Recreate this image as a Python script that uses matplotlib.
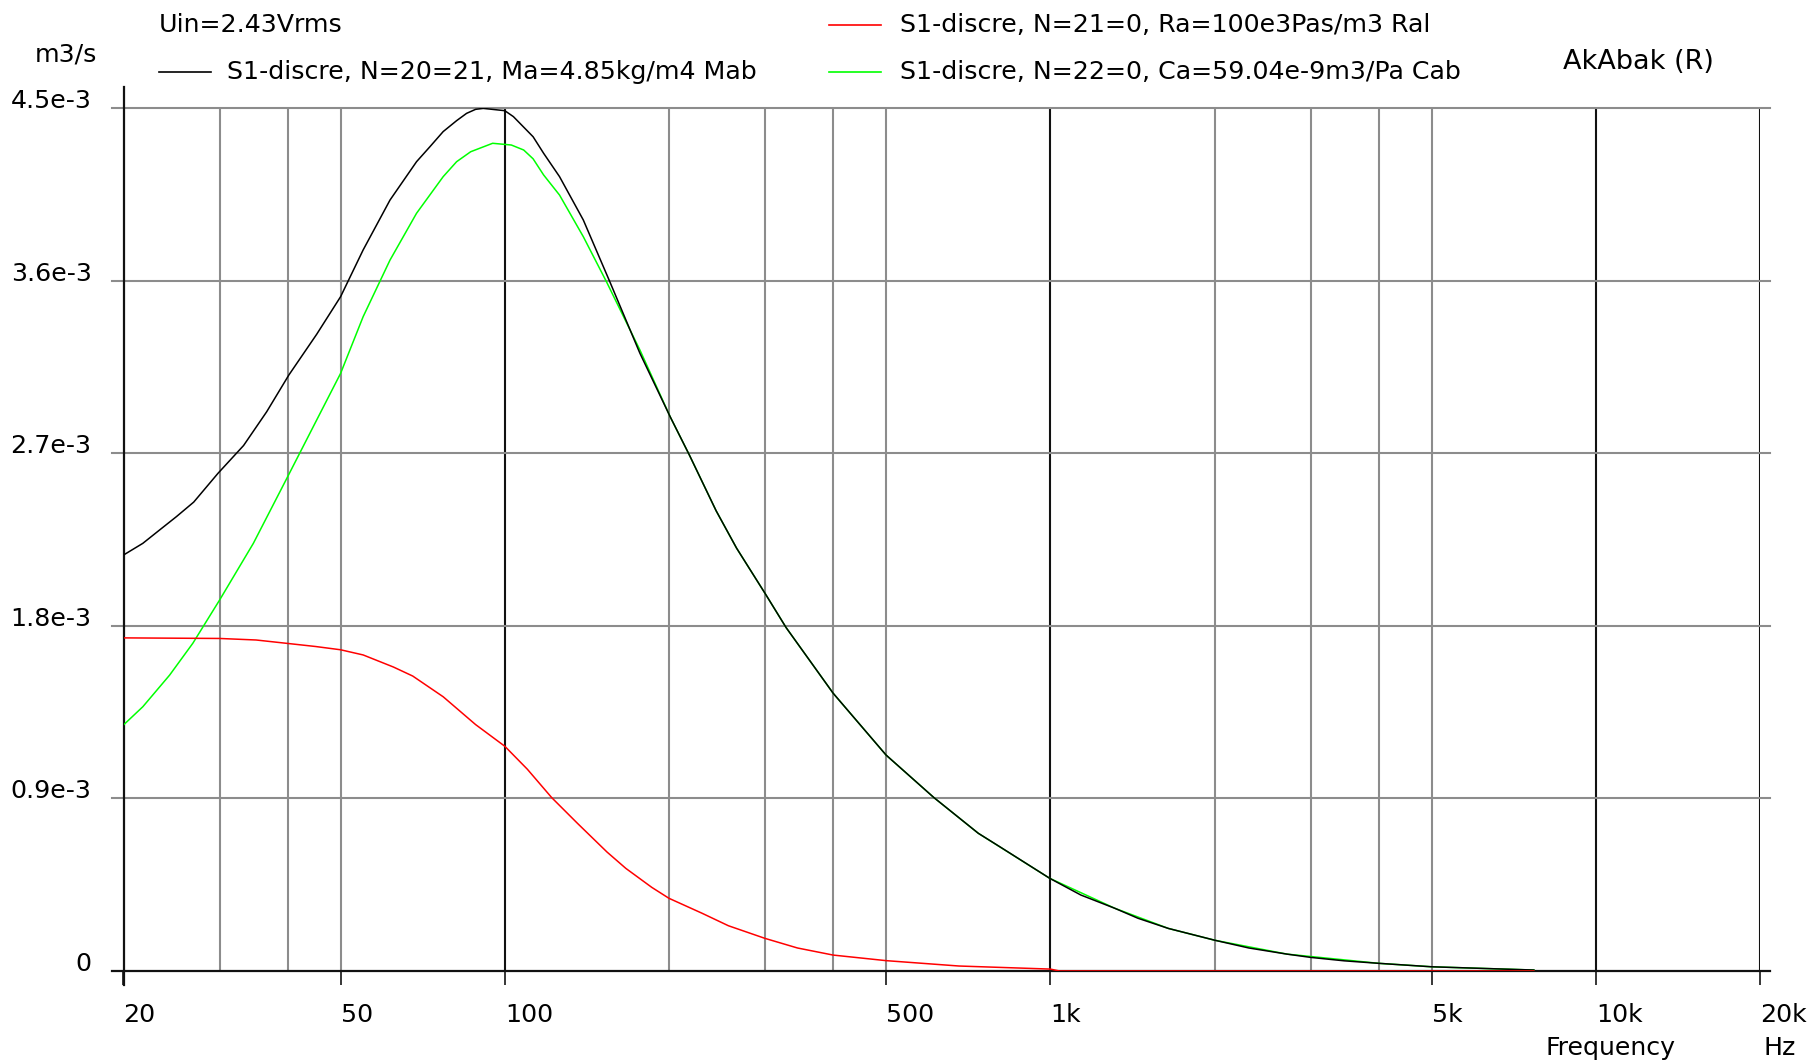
import numpy as np
import matplotlib
matplotlib.use("Agg")
import matplotlib.pyplot as plt
from matplotlib.lines import Line2D

# volume velocity, units of 1e-3 m3/s
black_f = [20, 21.7, 23.3, 25, 26.9, 29.8, 33.2, 36.6, 40.2, 45.2, 50, 55, 61.6, 68.9, 72.9,
           77.1, 81.6, 85.1, 88.4, 91.3, 100, 103.7, 112.7, 117.8, 126, 139.3, 155.8, 176.9,
           201, 218, 244, 266, 300, 328, 400, 500, 612, 738, 808, 998, 1138, 1313, 1448,
           1646, 2005, 2312, 2716, 3000, 3460, 4000, 5000, 7700]
black_q = [2.169, 2.230, 2.300, 2.369, 2.445, 2.595, 2.740, 2.916, 3.108, 3.320, 3.516, 3.760,
           4.020, 4.220, 4.298, 4.377, 4.434, 4.472, 4.493, 4.498, 4.486, 4.455, 4.350, 4.264,
           4.142, 3.916, 3.594, 3.221, 2.890, 2.690, 2.400, 2.205, 1.969, 1.790, 1.448, 1.126,
           0.904, 0.718, 0.648, 0.483, 0.396, 0.327, 0.275, 0.222, 0.160, 0.120, 0.088, 0.071,
           0.053, 0.040, 0.022, 0.005]

green_f = [20, 21.7, 24.3, 26.8, 30, 34.6, 40, 45.2, 50, 55, 61.6, 68.9, 77.1, 81.6, 86.6, 95,
           102.8, 108.3, 112.7, 117.8, 126, 139.3, 153.6, 176.9, 201, 218, 244, 266, 300, 328,
           400, 500, 612, 738, 998, 1313, 1646, 2005, 2716, 4000, 5000, 7700]
green_q = [1.283, 1.378, 1.543, 1.709, 1.934, 2.230, 2.578, 2.873, 3.116, 3.412, 3.707, 3.951,
           4.142, 4.220, 4.272, 4.316, 4.307, 4.281, 4.235, 4.151, 4.046, 3.829, 3.594, 3.238,
           2.890, 2.690, 2.400, 2.205, 1.969, 1.790, 1.448, 1.126, 0.904, 0.718, 0.483, 0.327,
           0.222, 0.160, 0.088, 0.040, 0.022, 0.005]

red_f = [20, 30, 35, 40, 45, 50, 55, 62.5, 67.8, 77.1, 88.4, 100, 110, 121.9, 135.9, 154,
         166.7, 186, 200, 230, 257, 300, 344, 400, 500, 680, 1000, 1040, 7700]
red_q = [1.737, 1.734, 1.726, 1.708, 1.692, 1.675, 1.648, 1.585, 1.538, 1.430, 1.285, 1.172,
         1.052, 0.904, 0.770, 0.620, 0.535, 0.436, 0.379, 0.301, 0.236, 0.170, 0.120, 0.083,
         0.054, 0.026, 0.010, 0.0, 0.0]

y_ticks = [0, 0.9, 1.8, 2.7, 3.6, 4.5]
y_labels = ['0', '0.9e-3', '1.8e-3', '2.7e-3', '3.6e-3', '4.5e-3']
x_ticks = [20, 50, 100, 500, 1000, 5000, 10000, 20000]
x_labels = ['20', '50', '100', '500', '1k', '5k', '10k', '20k']
gray_lines = [30, 40, 50, 200, 300, 400, 500, 2000, 3000, 4000, 5000]
dark_lines = [100, 1000, 10000, 20000]

W, H = 1810, 1064
GRAY = '#8c8c8c'
plt.rcParams['font.family'] = ['DejaVu Sans']
plt.rcParams['font.size'] = 18.2

fig = plt.figure(figsize=(W / 100, H / 100), dpi=100)
ax = fig.add_axes([123.5 / W, 1 - 971 / H, (1760 - 123.5) / W, (971 - 108) / H])
ax.set_xscale('log')
ax.set_xlim(20, 20000)
ax.set_ylim(0, 4.5)
for s in ax.spines.values():
    s.set_visible(False)

# grid
for f in gray_lines:
    ax.axvline(f, color=GRAY, lw=1.5, zorder=1)
for f in dark_lines:
    ax.axvline(f, color='#111111', lw=1.5, zorder=1)
for v in y_ticks[1:]:
    ax.axhline(v, xmin=-0.0073, xmax=1.006, color=GRAY, lw=1.5, clip_on=False, zorder=1)
ax.axhline(0, xmin=-0.0073, xmax=1.006, color='#111111', lw=1.6, clip_on=False, zorder=2)
ax.plot([0, 0], [-14 / 863, 1 + 21 / 863], transform=ax.transAxes, color='#111111',
        lw=1.6, clip_on=False, zorder=2)

# curves
ax.plot(green_f, green_q, color='#00ff00', lw=1.1, zorder=3)
ax.plot(black_f, black_q, color='black', lw=1.1, zorder=4)
ax.plot(red_f, red_q, color='#ff0000', lw=1.1, zorder=5)

# ticks
ax.set_xticks(x_ticks)
ax.set_xticklabels(x_labels)
ax.xaxis.set_minor_locator(matplotlib.ticker.NullLocator())
ax.tick_params(axis='x', direction='out', length=10, width=1.1, pad=13)
for t, f in zip(ax.xaxis.get_major_ticks(), x_ticks):
    t.tick1line.set_color(GRAY if f in gray_lines else '#111111')
for lab in ax.get_xticklabels():
    lab.set_ha('left')

ax.set_yticks(y_ticks)
ax.set_yticklabels(y_labels)
ax.tick_params(axis='y', length=0, pad=23)
for lab in ax.get_yticklabels():
    lab.set_va('baseline')

# header / legend
def ftext(x, y, s, **kw):
    fig.text(x / W, 1 - y / H, s, va='center', **kw)

def fline(x0, x1, y, c):
    fig.add_artist(Line2D([x0 / W, x1 / W], [1 - y / H, 1 - y / H], color=c, lw=1.2))

ftext(159, 25, 'Uin=2.43Vrms')
fline(159, 211, 72, 'black')
ftext(227, 72, 'S1-discre, N=20=21, Ma=4.85kg/m4 Mab')
fline(829, 881, 25, '#ff0000')
ftext(900, 25, 'S1-discre, N=21=0, Ra=100e3Pas/m3 Ral')
fline(829, 881, 72, '#00ff00')
ftext(900, 72, 'S1-discre, N=22=0, Ca=59.04e-9m3/Pa Cab')
ftext(1563, 62, 'AkAbak (R)', fontsize=19.5)
ftext(66, 55, 'm3/s', ha='center')
ftext(1611, 1048, 'Frequency', ha='center')
ftext(1763, 1048, 'Hz')

fig.savefig('out.png', dpi=100)
